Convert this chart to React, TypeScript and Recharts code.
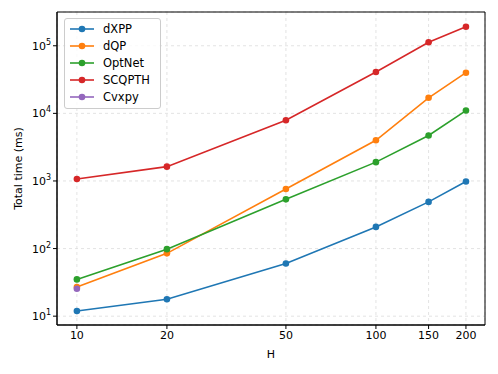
import {
  LineChart,
  Line,
  XAxis,
  YAxis,
  Legend,
  CartesianGrid,
  ReferenceArea,
} from "recharts";

// horizon sizes
const H = [10, 20, 50, 100, 150, 200];

// total time in ms per method
const dXPP = [11.9, 17.8, 60, 209, 490, 980];
const dQP = [27, 85, 760, 4000, 17000, 40000];
const OptNet = [35, 98, 535, 1900, 4700, 11000];
const SCQPTH = [1070, 1630, 7900, 41000, 113000, 191000];
const Cvxpy = [25.5, null, null, null, null, null];

const xTicks = [10, 20, 50, 100, 150, 200];
const yTicks = [10, 100, 1000, 10000, 100000];

const SERIES = [
  { name: "dXPP", values: dXPP, color: "#1f77b4" },
  { name: "dQP", values: dQP, color: "#ff7f0e" },
  { name: "OptNet", values: OptNet, color: "#2ca02c" },
  { name: "SCQPTH", values: SCQPTH, color: "#d62728" },
  { name: "Cvxpy", values: Cvxpy, color: "#9467bd" },
];

const X_DOMAIN = [8.58, 231.6];
const Y_DOMAIN = [7.4, 316000];
const FONT = "'DejaVu Sans', sans-serif";

const chartData = H.map((h, i) => {
  const row: Record<string, any> = { H: h };
  SERIES.forEach((s) => {
    row[s.name] = s.values[i];
  });
  return row;
});

const PowerTick = (props: any) => {
  const { x, y, payload } = props;
  const exp = Math.round(Math.log10(payload.value));
  return (
    <text x={x} y={y} dy={4} textAnchor="end" fontSize={11} fill="#000" fontFamily={FONT}>
      <tspan>10</tspan>
      <tspan fontSize={8} dy={-5}>{exp}</tspan>
    </text>
  );
};

const LegendBox = () => (
  <div
    style={{
      border: "1px solid #ccc",
      borderRadius: 3,
      background: "rgba(255,255,255,0.8)",
      padding: "2px 10px 3px 4px",
      fontFamily: FONT,
      fontSize: 11.5,
    }}
  >
    {SERIES.map((s) => (
      <div key={s.name} style={{ display: "flex", alignItems: "center", height: 16.8 }}>
        <svg width={26} height={10} style={{ marginRight: 8 }}>
          <line x1={1} y1={5} x2={25} y2={5} stroke={s.color} strokeWidth={1.6} />
          <circle cx={13} cy={5} r={3.3} fill={s.color} />
        </svg>
        <span>{s.name}</span>
      </div>
    ))}
  </div>
);

const App = () => {
  return (
    <div style={{ position: "absolute", left: 0, top: 0, background: "#fff" }}>
      <LineChart
        width={498}
        height={374}
        data={chartData}
        margin={{ top: 12, right: 13, bottom: 0, left: 12 }}
      >
        <CartesianGrid stroke="#dcdcdc" strokeDasharray="3 3" strokeWidth={0.8} />
        <XAxis
          dataKey="H"
          type="number"
          scale="log"
          domain={X_DOMAIN}
          ticks={xTicks}
          allowDataOverflow
          tickSize={4}
          tick={{ fontSize: 11, fill: "#000", fontFamily: FONT }}
          stroke="#000"
          height={49}
          label={{ value: "H", position: "insideBottom", offset: 16, fontSize: 11, fill: "#000", fontFamily: FONT }}
        />
        <YAxis
          type="number"
          scale="log"
          domain={Y_DOMAIN}
          ticks={yTicks}
          allowDataOverflow
          tickSize={4}
          tick={<PowerTick />}
          stroke="#000"
          width={45}
          label={{
            value: "Total time (ms)",
            angle: -90,
            position: "insideLeft",
            offset: 6,
            fontSize: 11,
            fill: "#000",
            fontFamily: FONT,
            style: { textAnchor: "middle" },
          }}
        />
        <ReferenceArea
          x1={X_DOMAIN[0]}
          x2={X_DOMAIN[1]}
          y1={Y_DOMAIN[0]}
          y2={Y_DOMAIN[1]}
          fill="none"
          stroke="#000"
          strokeWidth={1}
          fillOpacity={0}
        />
        <Legend
          layout="vertical"
          align="center"
          verticalAlign="middle"
          content={<LegendBox />}
          wrapperStyle={{ left: 64, top: 18, width: "auto" }}
        />
        {SERIES.map((s) => (
          <Line
            key={s.name}
            dataKey={s.name}
            name={s.name}
            stroke={s.color}
            strokeWidth={1.6}
            dot={{ r: 3.3, fill: s.color, stroke: s.color, strokeWidth: 0 }}
            activeDot={false}
            isAnimationActive={false}
          />
        ))}
      </LineChart>
    </div>
  );
};

export default App;
